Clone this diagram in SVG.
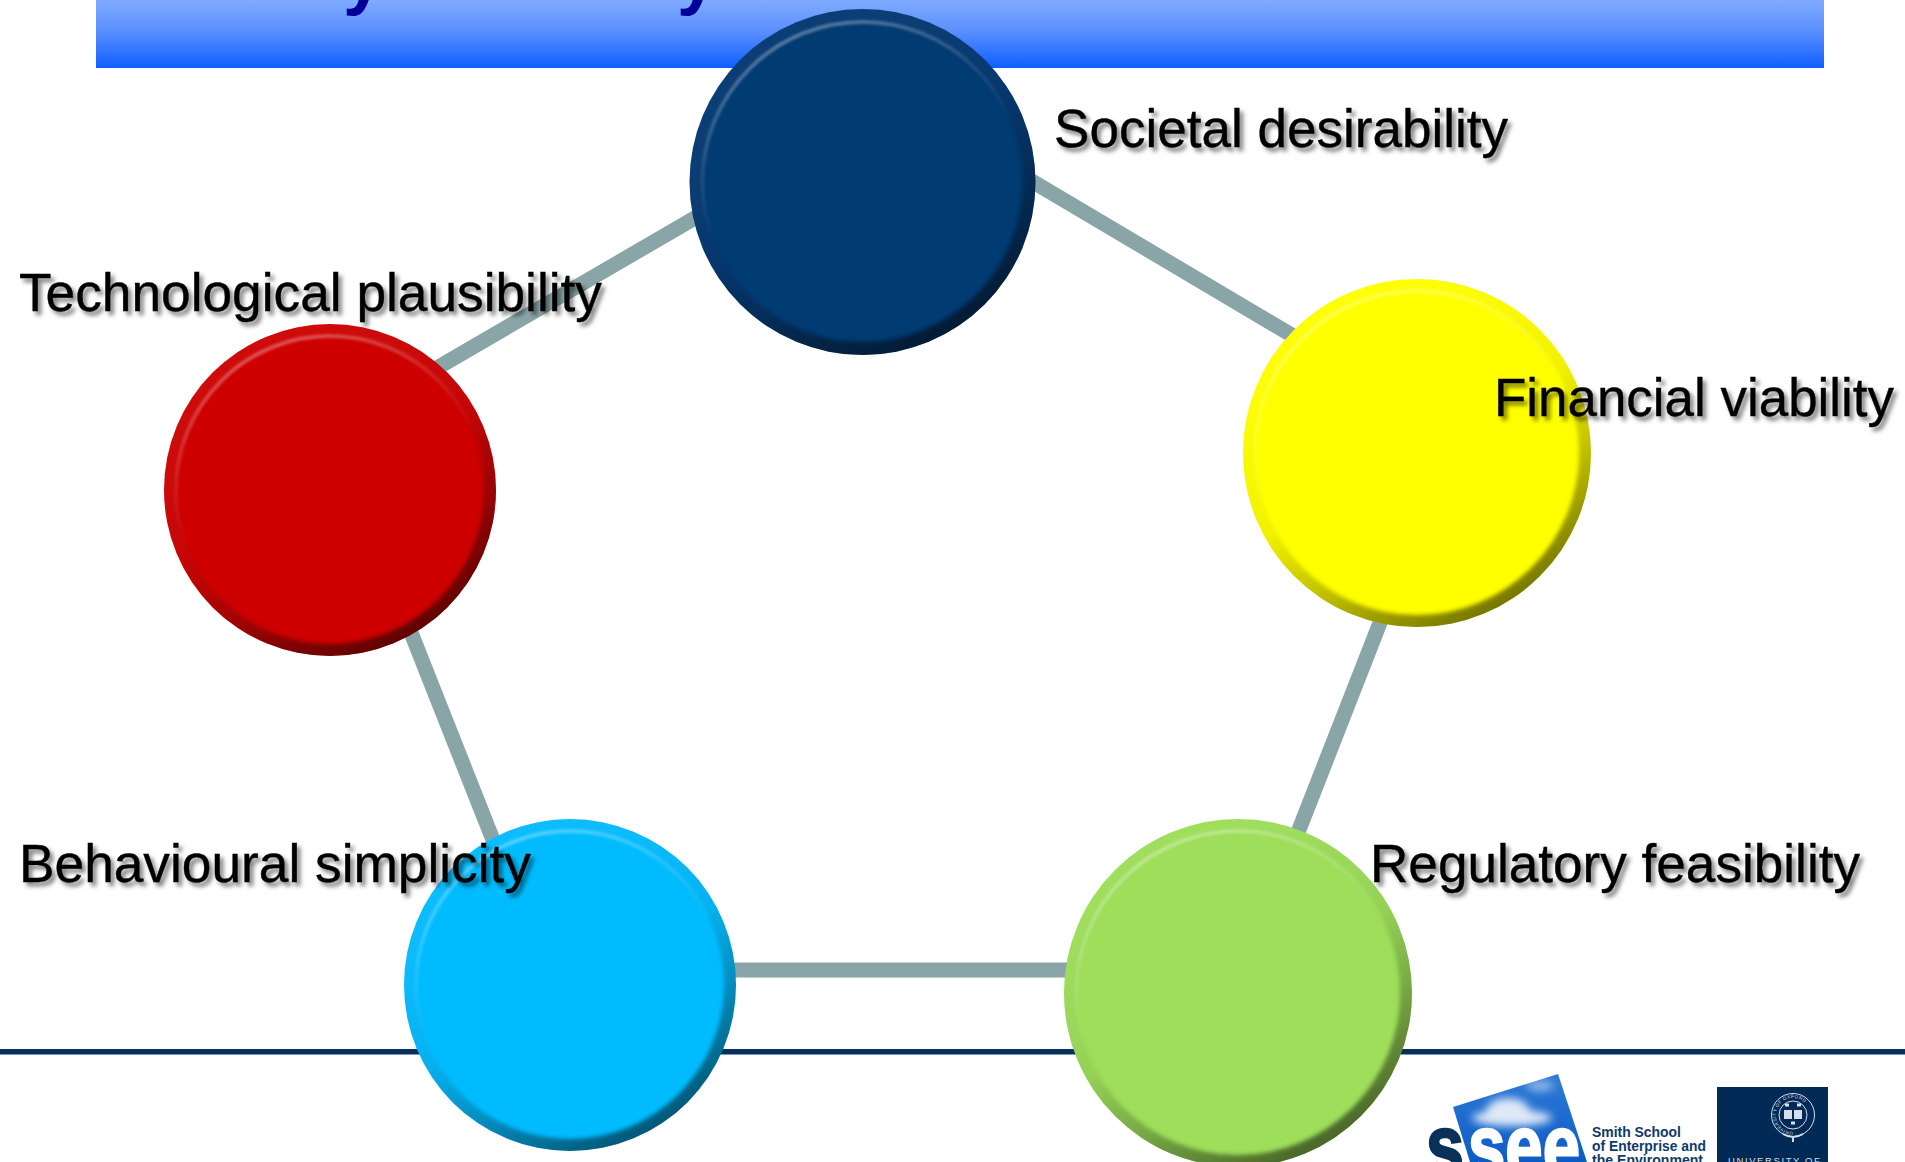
<svg xmlns="http://www.w3.org/2000/svg" width="1905" height="1162" viewBox="0 0 1905 1162">
<style>
.lbl{font-family:"Liberation Sans",Arial,sans-serif;font-size:54px;fill:#000;stroke:#000;stroke-width:0.4;filter:url(#ts)}
.conn{stroke:#8aa5a8;stroke-width:15;fill:none}
.ring{fill:url(#bevel)}
.hl{fill:none;stroke:url(#hilite);stroke-width:4;filter:url(#b2)}
.sm{font-family:"Liberation Sans",Arial,sans-serif;font-weight:700;font-size:14.6px;fill:#0f3a68}
.ss{font-family:"Liberation Sans",Arial,sans-serif;font-weight:700;font-size:88px;stroke-width:2.5}
</style>
<defs>
<linearGradient id="band" x1="0" y1="0" x2="0" y2="1"><stop offset="0" stop-color="#7fabff"/><stop offset="0.45" stop-color="#5c8fff"/><stop offset="1" stop-color="#0f5fff"/></linearGradient>
<linearGradient id="bevel" x1="0.25" y1="0.05" x2="0.75" y2="0.95"><stop offset="0" stop-color="#fff" stop-opacity="0.02"/><stop offset="0.5" stop-color="#000" stop-opacity="0.06"/><stop offset="0.72" stop-color="#000" stop-opacity="0.25"/><stop offset="1" stop-color="#000" stop-opacity="0.55"/></linearGradient>
<linearGradient id="hilite" x1="0.3" y1="0" x2="0.5" y2="0.5"><stop offset="0" stop-color="#fff" stop-opacity="0.32"/><stop offset="0.6" stop-color="#fff" stop-opacity="0.1"/><stop offset="1" stop-color="#fff" stop-opacity="0"/></linearGradient>
<linearGradient id="sky" x1="0" y1="0" x2="0" y2="1"><stop offset="0" stop-color="#2f7ad6"/><stop offset="1" stop-color="#0d5cc6"/></linearGradient>
<filter id="ts" x="-5%" y="-20%" width="110%" height="150%"><feDropShadow dx="3.5" dy="4" stdDeviation="2" flood-color="#000" flood-opacity="0.5"/></filter>
<filter id="b2" x="-5%" y="-5%" width="110%" height="110%"><feGaussianBlur stdDeviation="1"/></filter>
<filter id="b1" x="-5%" y="-5%" width="110%" height="110%"><feGaussianBlur stdDeviation="2"/></filter>
<filter id="cl" x="-30%" y="-30%" width="160%" height="160%"><feGaussianBlur stdDeviation="4"/></filter>
<path id="crestPath" d="M1793 1132a17 17 0 1 1 .01 0"/>
</defs>
<rect width="1905" height="1162" fill="#fff"/>
<g id="header">
<rect x="96" y="0" width="1728" height="68" fill="url(#band)"/>
<text x="343" y="1" font-family="Liberation Sans,Arial,sans-serif" font-weight="700" font-size="72" fill="#000099">y</text>
<text x="677" y="1" font-family="Liberation Sans,Arial,sans-serif" font-weight="700" font-size="72" fill="#000099">y</text>
</g>
<rect id="footer-rule" x="0" y="1049" width="1905" height="5.5" fill="#072f5c"/>
<g id="connectors">
<line class="conn" x1="430" y1="372" x2="700" y2="215"/>
<line class="conn" x1="1030" y1="180" x2="1300" y2="340"/>
<line class="conn" x1="408" y1="625" x2="497" y2="850"/>
<line class="conn" x1="1385" y1="610" x2="1295" y2="840"/>
<line class="conn" x1="730" y1="970" x2="1070" y2="970"/>
</g>
<g id="node-societal">
<circle cx="862.5" cy="182" r="173" fill="#063a72"/><circle class="ring" cx="862.5" cy="182" r="173"/>
<circle cx="862.5" cy="182" r="160" fill="#063a72" filter="url(#b1)"/><circle class="hl" cx="862.5" cy="182" r="160"/>
</g>
<g id="node-technological">
<circle cx="330" cy="490" r="166" fill="#ce0505"/><circle class="ring" cx="330" cy="490" r="166"/>
<circle cx="330" cy="490" r="154" fill="#ce0505" filter="url(#b1)"/><circle class="hl" cx="330" cy="490" r="154"/>
</g>
<g id="node-financial">
<circle cx="1417" cy="453" r="174" fill="#ffff00"/><circle class="ring" cx="1417" cy="453" r="174"/>
<circle cx="1417" cy="453" r="162" fill="#ffff00" filter="url(#b1)"/><circle class="hl" cx="1417" cy="453" r="162"/>
</g>
<g id="node-behavioural">
<circle cx="570" cy="985" r="166" fill="#06bcff"/><circle class="ring" cx="570" cy="985" r="166"/>
<circle cx="570" cy="985" r="154" fill="#06bcff" filter="url(#b1)"/><circle class="hl" cx="570" cy="985" r="154"/>
</g>
<g id="node-regulatory">
<circle cx="1238" cy="993" r="174" fill="#9ede5a"/><circle class="ring" cx="1238" cy="993" r="174"/>
<circle cx="1238" cy="993" r="162" fill="#9ede5a" filter="url(#b1)"/><circle class="hl" cx="1238" cy="993" r="162"/>
</g>
<g id="labels">
<text class="lbl" x="1054" y="146.5" textLength="454" lengthAdjust="spacingAndGlyphs">Societal desirability</text>
<text class="lbl" x="19" y="311" textLength="583" lengthAdjust="spacingAndGlyphs">Technological plausibility</text>
<text class="lbl" x="1494" y="416" textLength="400" lengthAdjust="spacingAndGlyphs">Financial viability</text>
<text class="lbl" x="19" y="881.5" textLength="512" lengthAdjust="spacingAndGlyphs">Behavioural simplicity</text>
<text class="lbl" x="1370" y="881.5" textLength="490" lengthAdjust="spacingAndGlyphs">Regulatory feasibility</text>
</g>
<g id="logo-ssee">
<polygon points="1453,1107 1558,1074 1587,1162 1470,1162" fill="url(#sky)"/>
<g fill="#fff" filter="url(#cl)" opacity="0.85">
<ellipse cx="1508" cy="1112" rx="22" ry="14"/><ellipse cx="1512" cy="1118" rx="40" ry="8"/><ellipse cx="1540" cy="1086" rx="14" ry="5" opacity="0.6"/>
</g>
<text class="ss" x="1426" y="1176" fill="#0a3159" stroke="#0a3159" textLength="38" lengthAdjust="spacingAndGlyphs">s</text>
<text class="ss" x="1468" y="1176" fill="#fff" stroke="#fff" textLength="112" lengthAdjust="spacingAndGlyphs">see</text>
<text class="sm" x="1592" y="1137" textLength="89" lengthAdjust="spacingAndGlyphs">Smith School</text>
<text class="sm" x="1592" y="1151" textLength="114" lengthAdjust="spacingAndGlyphs">of Enterprise and</text>
<text class="sm" x="1592" y="1165" textLength="111" lengthAdjust="spacingAndGlyphs">the Environment</text>
</g>
<g id="logo-oxford">
<rect x="1717" y="1087" width="111" height="75" fill="#002a56"/>
<circle cx="1793" cy="1115" r="21.5" fill="none" stroke="#d5dfea" stroke-width="1"/>
<circle cx="1793" cy="1115" r="14" fill="none" stroke="#d5dfea" stroke-width="1"/>
<text font-family="Liberation Sans,Arial,sans-serif" font-size="4.6" fill="#d5dfea" letter-spacing="0.5"><textPath href="#crestPath">UNIVERSITY OF OXFORD</textPath></text>
<rect x="1784" y="1110" width="8" height="9" fill="#d5dfea"/><rect x="1794" y="1110" width="8" height="9" fill="#d5dfea"/>
<path d="M1785 1105h4M1797 1105h4M1791 1123h4" stroke="#d5dfea" stroke-width="3"/>
<path d="M1783 1134q10 6 20 0M1793 1136v6" stroke="#d5dfea" stroke-width="2" fill="none"/>
<text x="1728" y="1164" font-family="Liberation Sans,Arial,sans-serif" font-size="9.5" fill="#d5dfea" letter-spacing="1.6">UNIVERSITY OF</text>
</g>
</svg>
